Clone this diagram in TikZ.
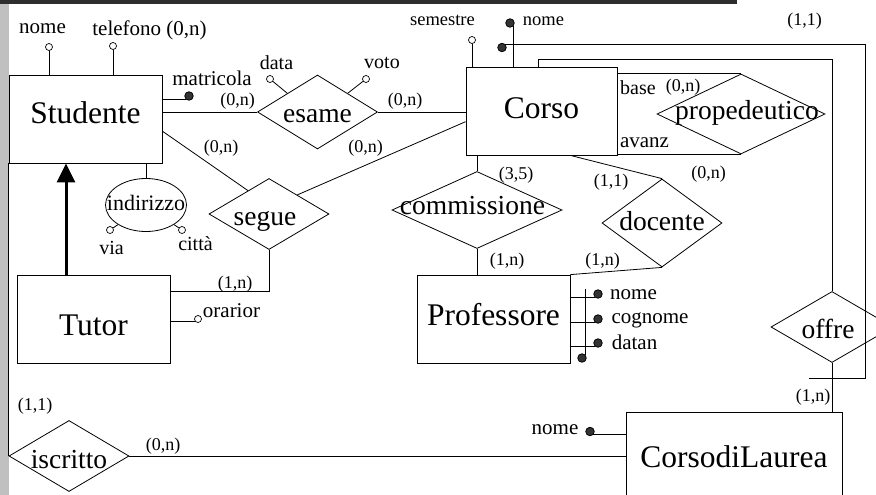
\documentclass[tikz,border=0pt]{standalone}
\usepackage{fontspec}
\setmainfont{Liberation Serif}
\usetikzlibrary{arrows.meta}
\usetikzlibrary{shapes.geometric}

\definecolor{topbar}{RGB}{45,45,45}
\definecolor{sidebar}{RGB}{192,192,192}
\newcommand{\nowidth}[2][0pt]{\makebox[0pt]{\hspace*{#1}#2}}

\begin{document}
\begin{tikzpicture}
	[x=1pt, y=-1pt, line width=0.8pt,
	entity/.style={draw, rectangle, inner sep=0pt, font=\fontsize{31.5}{32}\selectfont, text height=22pt, text depth=14pt},
	relation/.style={draw, diamond, inner sep=0pt, font=\fontsize{27.5}{28}\selectfont, text height=24pt, text depth=4pt},
	card/.style={inner sep=0pt, font=\fontsize{18}{18}\selectfont},
	attrib/.style={inner sep=0pt, font=\fontsize{21}{21}\selectfont},
	opendot/.style={draw, circle, fill=white, inner sep=0pt, minimum size=7pt, line width=0.7pt},
	fulldot/.style={draw, circle, fill=black!80, inner sep=0pt, minimum size=8.5pt}]

	%frame
	\useasboundingbox (0,0) rectangle (876,495);
	\clip (0,0) rectangle (876,495);
	\fill[topbar] (0,0) rectangle (737,4);
	\fill[sidebar] (0,4) rectangle (9,495);

	%entities
	\node (studente) [entity, minimum width=153pt, minimum height=88pt] at (85.5,119) {Studente};
	\node (tutor) [entity, minimum width=153pt, minimum height=88pt, text height=40pt, text depth=8pt] at (93.5,319) {Tutor};
	\node (corso) [entity, minimum width=151pt, minimum height=88pt, text height=24pt, text depth=10pt] at (541.5,111) {Corso};
	\node (professore) [entity, minimum width=153pt, minimum height=88pt, text height=22pt, text depth=10pt] at (493.5,319) {Professore};
	\node (cdl) [entity, minimum width=216pt, minimum height=90pt, text height=30pt, text depth=10pt] at (734,457) {CorsodiLaurea};

	%relationships
	\node (esame) [relation, minimum width=120pt, minimum height=74pt] at (317.5,112) {\nowidth{esame}};
	\node (segue) [relation, minimum width=120pt, minimum height=71pt, text height=26pt] at (269,214) {\nowidth[-8pt]{segue}};
	\node (propedeutico) [relation, minimum width=168pt, minimum height=80pt, text height=18pt, text depth=6pt] at (741,114) {\nowidth[12pt]{propedeutico}};
	\node (commissione) [relation, minimum width=170pt, minimum height=77pt, text height=16pt, text depth=8pt] at (477,210) {\nowidth[-9pt]{commissione}};
	\node (docente) [relation, minimum width=120pt, minimum height=88pt, text height=18pt] at (662,223) {\nowidth{docente}};
	\node (offre) [relation, minimum width=122pt, minimum height=71pt, text height=26pt] at (832,327) {\nowidth[-8pt]{offre}};
	\node (iscritto) [relation, minimum width=120pt, minimum height=71pt, text height=28pt] at (69,456) {\nowidth{iscritto}};
	\node (indirizzo) [draw, ellipse, inner sep=0pt, minimum width=81pt, minimum height=53pt, font=\fontsize{22}{22}\selectfont, text height=16pt, text depth=6pt] at (146,205) {\nowidth{indirizzo}};

	%attributes
	\node (nomeS) [opendot] at (49,47) {};
	\node (telS) [opendot] at (113,46) {};
	\node (matricola) [fulldot] at (189,96) {};
	\node (dataE) [opendot] at (270,79) {};
	\node (votoE) [opendot] at (366,79) {};
	\node (semestre) [opendot] at (472,40) {};
	\node (nomeC) [fulldot] at (510,23) {};
	\node (idC) [fulldot] at (502,47.5) {};
	\node (via) [opendot] at (110,230) {};
	\node (citta) [opendot] at (182,230) {};
	\node (orarior) [opendot] at (198,319) {};
	\node (nomeP) [fulldot] at (598,294) {};
	\node (cognomeP) [fulldot] at (598,319) {};
	\node (datanP) [fulldot] at (598,343) {};
	\node (idP) [fulldot] at (582,358) {};
	\node (nomeL) [fulldot] at (590,431.5) {};

	\node (nomeStxt) [attrib] at (42.5,29) {nome};
	\node (telStxt) [attrib] at (149.5,30) {telefono (0,n)};
	\node (matricolatxt) [attrib] at (212,78) {matricola};
	\node (dataEtxt) [attrib, font=\fontsize{20}{20}\selectfont] at (276.5,62.5) {data};
	\node (votoEtxt) [attrib, font=\fontsize{20}{20}\selectfont] at (382,62.5) {voto};
	\node (semestretxt) [attrib, font=\fontsize{18.5}{18.5}\selectfont] at (442.5,20.5) {semestre};
	\node (nomeCtxt) [attrib, font=\fontsize{18.5}{18.5}\selectfont] at (543.5,21) {nome};
	\node (viatxt) [attrib, font=\fontsize{20}{20}\selectfont] at (111.5,247.5) {via};
	\node (cittatxt) [attrib, font=\fontsize{20}{20}\selectfont] at (195.5,244) {città};
	\node (orariortxt) [attrib] at (231.5,311) {orarior};
	\node (basetxt) [attrib, font=\fontsize{20}{20}\selectfont] at (638,88) {base};
	\node (avanztxt) [attrib] at (644.5,142.5) {avanz};
	\node (nomePtxt) [attrib] at (633.5,294.5) {nome};
	\node (cognomePtxt) [attrib] at (650,320) {cognome};
	\node (datanPtxt) [attrib] at (634.5,342.5) {datan};
	\node (nomeLtxt) [attrib] at (555,430) {nome};

	%cardinalities
	\node (cEsameS) [card] at (237.5,101) {(0,n)};
	\node (cEsameC) [card] at (405,101) {(0,n)};
	\node (cSegueS) [card] at (221,148) {(0,n)};
	\node (cSegueC) [card] at (365.5,148) {(0,n)};
	\node (cSegueT) [card] at (235,284.5) {(1,n)};
	\node (cCommC) [card] at (516,175) {(3,5)};
	\node (cDocC) [card] at (611,182) {(1,1)};
	\node (cBase) [card] at (683,87) {(0,n)};
	\node (cAvanz) [card] at (708.5,174) {(0,n)};
	\node (cCommP) [card] at (507,261.5) {(1,n)};
	\node (cDocP) [card] at (602.5,261.5) {(1,n)};
	\node (cOffreC) [card] at (804.5,21) {(1,1)};
	\node (cOffreL) [card] at (813,397.5) {(1,n)};
	\node (cIscrS) [card] at (35,406) {(1,1)};
	\node (cIscrL) [card] at (163,446) {(0,n)};

	%links
	\coordinate (isa) at (66,0);
	\coordinate (loopin) at (538,59);
	\coordinate (idcorner) at (865,378);
	\coordinate (idend) at (809,378);

	\draw (studente.east |- esame.west) -- (esame.west);
	\draw (esame.east) -- (corso.west |- esame.east);
	\draw (studente.-9) -- (segue.132);
	\draw (segue.34) -- (corso.188);
	\draw (segue.south) |- (tutor.20);
	\draw (corso.south -| commissione.north) -- (commissione.north);
	\draw (commissione.south) -- (professore.north -| commissione.south);
	\draw (corso.-57) -- (docente.north);
	\draw (docente.south) -- (professore.north east);
	\draw (corso.east |- propedeutico.north) -- (propedeutico.north);
	\draw (corso.east |- propedeutico.south) -- (propedeutico.south);
	\draw (corso.north -| loopin) -- (loopin) -| (offre.north);
	\draw (offre.south) -- (cdl.north -| offre.south);
	\draw (iscritto.east) -- (cdl.west |- iscritto.east);
	\draw (iscritto.west) -- (studente.south west);
	\draw (idC.north east) -| (idcorner) -- (idend);
	\draw[-{Triangle[length=19pt,width=18pt]}, line width=3pt] (tutor.north -| isa) -- (studente.south -| isa);

	\draw (studente.north -| nomeS) -- (nomeS);
	\draw (studente.north -| telS) -- (telS);
	\draw (studente.east |- matricola.south west) -- (matricola.south west);
	\draw (dataE) -- (esame.north west);
	\draw (votoE) -- (esame.north east);
	\draw (corso.north -| semestre) -- (semestre);
	\draw (corso.north -| nomeC.south east) -- (nomeC.south east);
	\draw (studente.south -| indirizzo.north) -- (indirizzo.north);
	\draw (via) -- (indirizzo.215);
	\draw (citta) -- (indirizzo.-35);
	\draw (tutor.east |- orarior.south west) -- (orarior.south west);
	\draw (professore.east |- nomeP.south west) -- (nomeP.south west);
	\draw (professore.east |- cognomeP.south west) -- (cognomeP.south west);
	\draw (professore.east |- datanP.south west) -- (datanP.south west);
	\draw (idP.north east) -- (idP.north east |- nomeP.north);
	\draw (cdl.west |- nomeL.south east) -- (nomeL.south east);
\end{tikzpicture}
\end{document}
